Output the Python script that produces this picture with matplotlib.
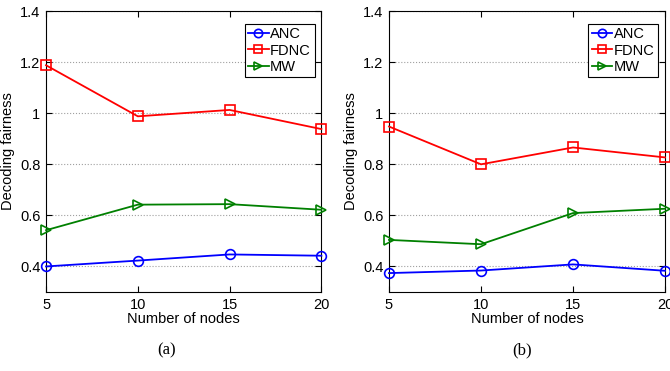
import matplotlib.pyplot as plt
from matplotlib.ticker import FuncFormatter

plt.rcParams['font.family'] = ['Liberation Sans', 'DejaVu Sans']

nodes = [5, 10, 15, 20]

# panel (a)
anc_a = [0.400, 0.423, 0.447, 0.442]
fdnc_a = [1.188, 0.988, 1.013, 0.938]
mw_a = [0.542, 0.642, 0.644, 0.622]

# panel (b)
anc_b = [0.374, 0.384, 0.408, 0.383]
fdnc_b = [0.948, 0.800, 0.866, 0.827]
mw_b = [0.504, 0.487, 0.609, 0.626]

y_ticks = [0.4, 0.6, 0.8, 1.0, 1.2, 1.4]
captions = ["(a)", "(b)"]

fig = plt.figure(figsize=(6.7, 3.71), dpi=100)
ax_a = fig.add_axes([0.0687, 0.213, 0.411, 0.757])
ax_b = fig.add_axes([0.5806, 0.213, 0.412, 0.757])


def draw_panel(ax, anc, fdnc, mw, caption, cap_x):
    style = dict(lw=1.3, mew=1.2, mfc='none', clip_on=False, zorder=3)
    ax.plot(nodes, anc, '-o', color='#0000ff', label='ANC', ms=7, **style)
    ax.plot(nodes, fdnc, '-s', color='#ff0000', label='FDNC', ms=6.5, **style)
    ax.plot(nodes, mw, '->', color='#008000', label='MW', ms=7.5, **style)
    ax.set_xlim(5, 20)
    ax.set_ylim(0.3, 1.4)
    ax.set_xticks(nodes)
    ax.set_yticks(y_ticks)
    ax.yaxis.set_major_formatter(FuncFormatter(lambda v, p: '%g' % v))
    ax.tick_params(direction='in', top=True, right=True, labelsize=10.5,
                   length=4, width=0.8, pad=4)
    ax.yaxis.grid(True, linestyle=':', color='#a0a0a0', lw=0.8)
    ax.set_axisbelow(True)
    for s in ax.spines.values():
        s.set_linewidth(0.8)
    ax.set_xlabel('Number of nodes', fontsize=10.5, labelpad=0)
    ax.set_ylabel('Decoding fairness', fontsize=10.5, labelpad=4)
    leg = ax.legend(loc='upper right', bbox_to_anchor=(0.975, 0.955),
                    fontsize=10.5, handlelength=1.4, handletextpad=0.1,
                    borderpad=0.25, labelspacing=0.15, fancybox=False,
                    framealpha=1, edgecolor='black', borderaxespad=0)
    leg.get_frame().set_linewidth(0.8)
    for h in leg.get_lines():
        h.set_markersize(6)
    fig.text(cap_x, 1 - 350 / 371, caption, ha='center', va='center',
             fontsize=12, family='Liberation Serif')


draw_panel(ax_a, anc_a, fdnc_a, mw_a, captions[0], 167 / 670)
draw_panel(ax_b, anc_b, fdnc_b, mw_b, captions[1], 522 / 670)

fig.savefig('out.png', dpi=100)
